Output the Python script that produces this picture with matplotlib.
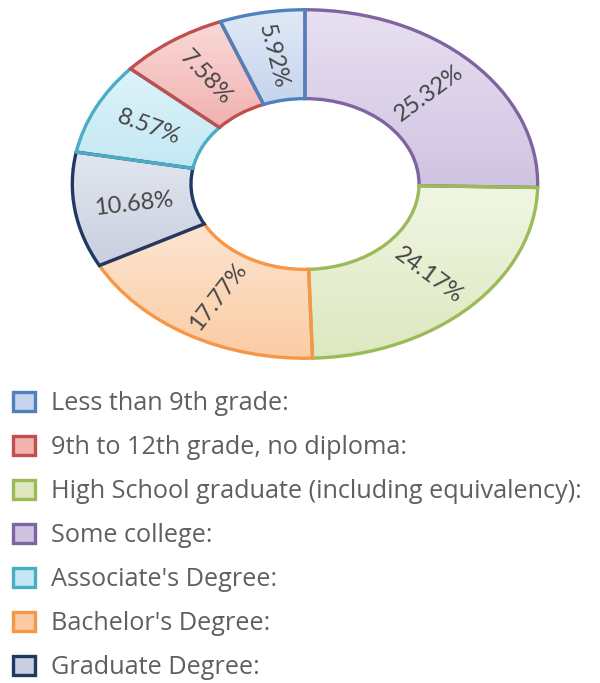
import numpy as np
import matplotlib
matplotlib.use("Agg")
import matplotlib.pyplot as plt
from matplotlib.colors import to_rgb

# Data (legend order)
categories = ["Less than 9th grade:", "9th to 12th grade, no diploma:",
              "High School graduate (including equivalency):", "Some college:",
              "Associate's Degree:", "Bachelor's Degree:", "Graduate Degree:"]
values = [5.92, 7.58, 24.17, 25.32, 8.57, 17.77, 10.68]
# Drawing order around the ring (clockwise from 12 o'clock)
pie_order = [3, 2, 5, 6, 4, 1, 0]

fills_top = ["#e0e9f6", "#f9d9d8", "#f1f6e3", "#e8e0f1", "#def3fa", "#fde5d2", "#e2e6ef"]
fills_bot = ["#c5d5ee", "#f1b2b0", "#dde8c0", "#d0c3e2", "#c3e8f3", "#fbcca4", "#c8cfdf"]
edges = ["#4f81bd", "#c0504d", "#9bbb59", "#8064a2", "#4bacc6", "#f79646", "#1f3864"]

W, H = 600, 683
fig = plt.figure(figsize=(W / 100, H / 100), dpi=100)
cx, cy, rx, ry = 305, 184, 235, 176
ax = fig.add_axes([(cx - rx) / W, (H - cy - ry) / H, 2 * rx / W, 2 * ry / H])

vals = [values[i] for i in pie_order]
ring_w = 0.51
wedges, _ = ax.pie(vals, startangle=90, counterclock=False, radius=1.0,
                   colors=[fills_bot[i] for i in pie_order],
                   wedgeprops=dict(width=ring_w, edgecolor="none"))

# vertical gradient inside each wedge
for w, i in zip(wedges, pie_order):
    th = np.deg2rad(np.linspace(w.theta1, w.theta2, 100))
    xs = np.concatenate([np.cos(th), (1 - ring_w) * np.cos(th)])
    ys = np.concatenate([np.sin(th), (1 - ring_w) * np.sin(th)])
    t = np.linspace(0, 1, 256)[:, None]
    c0, c1 = np.array(to_rgb(fills_top[i])), np.array(to_rgb(fills_bot[i]))
    img = (c0 * (1 - t) + c1 * t)[:, None, :]
    im = ax.imshow(img, extent=(xs.min(), xs.max(), ys.min(), ys.max()),
                   origin="upper", aspect="auto", zorder=1.5, interpolation="bilinear")
    im.set_clip_path(w)

wedges2, _ = ax.pie(vals, startangle=90, counterclock=False, radius=1.0,
                    colors=["none"] * len(vals),
                    wedgeprops=dict(width=ring_w, linewidth=2.4, joinstyle="miter"))
for w, i in zip(wedges2, pie_order):
    w.set_edgecolor(edges[i])
    w.set_facecolor("none")
    w.set_zorder(3)
ax.set_aspect("auto")
ax.set_xlim(-1.01, 1.01)
ax.set_ylim(-1.01, 1.01)
ax.axis("off")

# Percentage labels, radial
total = sum(vals)
start = 90.0
for v in vals:
    span = 360.0 * v / total
    mid = np.deg2rad(start - span / 2)
    start -= span
    r = 0.745
    x, y = r * np.cos(mid), r * np.sin(mid)
    ang = np.degrees(np.arctan2(np.sin(mid) * ry, np.cos(mid) * rx))
    if ang > 90:
        ang -= 180
    elif ang < -90:
        ang += 180
    ax.text(x, y, f"{v:.2f}%", rotation=ang, rotation_mode="anchor",
            ha="center", va="center", fontsize=17, color="#454545",
            family="Lato", zorder=4)

# Legend (manual, in pixel positions)
row0, step = 401, 44.0
for k, lab in enumerate(categories):
    yc = row0 + k * step
    sq = plt.Rectangle((13 / W, (H - yc - 9.5) / H), 22 / W, 19 / H,
                       transform=fig.transFigure, facecolor=fills_bot[k],
                       edgecolor=edges[k], linewidth=2.4)
    fig.patches.append(sq)
    fig.text(51 / W, (H - yc) / H, lab, ha="left", va="center_baseline",
             fontsize=18.2, family="Open Sans", color="#5f5f5f")

fig.savefig("out.png", dpi=100)
